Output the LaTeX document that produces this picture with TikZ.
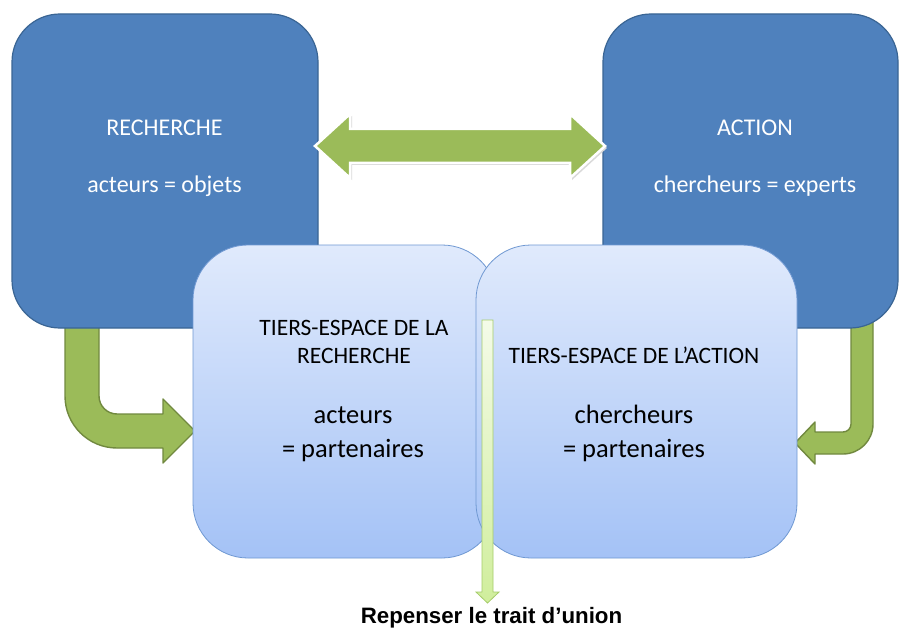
\documentclass[tikz,border=0pt]{standalone}
\usepackage{fontspec}
\setmainfont{Carlito}
\newfontfamily\capfont{Liberation Sans}
\usetikzlibrary{calc}
\definecolor{blueF}{HTML}{4F81BD}
\definecolor{blueD}{HTML}{3A6594}
\definecolor{lightT}{HTML}{E0EAFC}
\definecolor{lightBot}{HTML}{A4C2F6}
\definecolor{lightB}{HTML}{6F98D2}
\definecolor{greenF}{HTML}{9BBB59}
\definecolor{greenD}{HTML}{71893F}
\definecolor{vT}{HTML}{F4FBE8}
\definecolor{vB}{HTML}{D0EE9C}
\definecolor{vD}{HTML}{A5CC6A}
\begin{document}
\begin{tikzpicture}[x=1pt,y=-1pt,
  bluebox/.style={draw=blueD, line width=1.2pt, fill=blueF, rounded corners=48pt, inner sep=0pt},
  lightbox/.style={draw=lightB, line width=0.8pt, top color=lightT, bottom color=lightBot, rounded corners=55pt, inner sep=0pt},
  greenarrow/.style={fill=greenF, draw=greenD, line width=1.4pt, line join=round},
  bluetxt/.style={text=white, font=\fontsize{24}{29}\selectfont, anchor=base, inner sep=0pt},
  capstxt/.style={text=black, font=\fontsize{23.5}{29}\selectfont, anchor=base, inner sep=0pt},
  lowtxt/.style={text=black, font=\fontsize{26.5}{32}\selectfont, anchor=base, inner sep=0pt}]
\useasboundingbox (0,0) rectangle (901,631);
\fill[white] (0,0) rectangle (901,631);

% bent arrows (behind the blue boxes)
\coordinate (la) at (82,320);
\coordinate (ra) at (862,320);
\path[greenarrow] (65,320) -- (65,396) arc[start angle=180,end angle=90,radius=52]
  -- (163,448) -- (163,463) -- (195,431) -- (163,399) -- (163,414) -- (117,414)
  arc[start angle=90,end angle=180,radius=18] -- (99,320) -- cycle;
\path[greenarrow] (873,320) -- (873,424) arc[start angle=0,end angle=90,radius=30]
  -- (815,454) -- (815,464) -- (795,443) -- (815,422) -- (815,432) -- (843,432)
  arc[start angle=90,end angle=0,radius=8] -- (851,320) -- cycle;

% blue boxes
\node[bluebox, minimum width=306pt, minimum height=314pt] (rech) at (165,171) {};
\node[bluebox, minimum width=295pt, minimum height=314pt] (act) at (750.5,171) {};
\node[bluetxt] (rt1) at (164.5,136) {RECHERCHE};
\node[bluetxt] (rt2) at (164.5,193) {acteurs = objets};
\node[bluetxt] (at1) at (755,136) {ACTION};
\node[bluetxt] (at2) at (755,193) {chercheurs = experts};

% double arrow
\path[fill=black!15] (317,148) -- (352,116) -- (352,131) -- (572,131) -- (572,116) -- (607,148)
  -- (572,180) -- (572,165) -- (352,165) -- (352,180) -- cycle;
\path[fill=greenF, draw=white, line width=2.5pt, line join=miter] (315,146) -- (350,114) -- (350,129) -- (570,129) -- (570,114) -- (605,146)
  -- (570,178) -- (570,163) -- (350,163) -- (350,178) -- cycle;

% light boxes
\node[lightbox, minimum width=304pt, minimum height=313pt] (tr) at (345,401.5) {};
\node[lightbox, minimum width=321pt, minimum height=313pt] (ta) at (636.5,401.5) {};
\node[capstxt] (tr1) at (354,335) {TIERS-ESPACE DE LA};
\node[capstxt] (tr2) at (354,363) {RECHERCHE};
\node[lowtxt] (tr3) at (353,423) {acteurs};
\node[lowtxt] (tr4) at (353,457) {= partenaires};
\node[capstxt] (ta1) at (634,363) {TIERS-ESPACE DE L’ACTION};
\node[lowtxt] (ta2) at (634,423) {chercheurs};
\node[lowtxt] (ta3) at (634,457) {= partenaires};

% vertical arrow
\coordinate (vs) at (487.5,320);
\coordinate (ve) at (487.5,603);
\shade[top color=vT, bottom color=vB, draw=vD, line width=0.8pt]
  ($(vs)+(-5.5,0)$) -- ($(vs)+(5.5,0)$) -- ($(ve)+(5.5,-11)$) -- ($(ve)+(11.5,-11)$) -- (ve)
  -- ($(ve)+(-11.5,-11)$) -- ($(ve)+(-5.5,-11)$) -- cycle;
\node[font=\capfont\bfseries\fontsize{22.3}{24}\selectfont, anchor=base, inner sep=0pt] (cap) at (491.5,623) {Repenser le trait d’union};
\end{tikzpicture}
\end{document}
